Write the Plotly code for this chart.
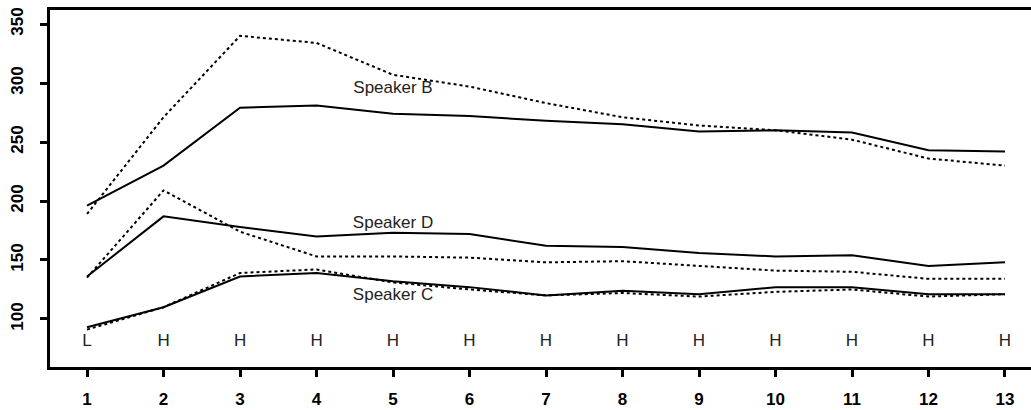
import plotly.graph_objects as go

positions = list(range(1, 14))
accent_labels = ["L", "H", "H", "H", "H", "H", "H", "H", "H", "H", "H", "H", "H"]
accent_label_y = [81] * 13

speaker_b_solid = [196, 230, 279, 281, 274, 272, 268, 265, 259, 260, 258, 243, 242]
speaker_b_dotted = [189, 271, 340, 334, 307, 297, 283, 271, 264, 260, 252, 236, 230]
speaker_d_solid = [136, 187, 178, 170, 173, 172, 162, 161, 156, 153, 154, 145, 148]
speaker_d_dotted = [135, 209, 174, 153, 153, 152, 148, 149, 145, 141, 140, 134, 134]
speaker_c_solid = [93, 110, 136, 139, 132, 127, 120, 124, 121, 127, 127, 121, 121]
speaker_c_dotted = [91, 110, 139, 142, 131, 125, 120, 122, 119, 123, 125, 119, 121]

speaker_names = ["Speaker B", "Speaker D", "Speaker C"]
speaker_label_x = [5, 5, 5]
speaker_label_y = [295, 181, 120]

y_ticks = [100, 150, 200, 250, 300, 350]

FONT = "Liberation Sans, Arial, Helvetica, sans-serif"

fig = go.Figure()

series = [
    (speaker_b_solid, "solid"),
    (speaker_b_dotted, "3px,3px"),
    (speaker_d_solid, "solid"),
    (speaker_d_dotted, "3px,3px"),
    (speaker_c_solid, "solid"),
    (speaker_c_dotted, "3px,3px"),
]
for vals, dash in series:
    fig.add_trace(go.Scatter(
        x=positions, y=vals, mode="lines",
        line=dict(color="black", width=2, dash=dash),
        showlegend=False, hoverinfo="skip",
    ))

fig.add_trace(go.Scatter(
    x=positions, y=accent_label_y, mode="text", text=accent_labels,
    textfont=dict(family=FONT, size=17, color="#222"),
    showlegend=False, hoverinfo="skip",
))
fig.add_trace(go.Scatter(
    x=speaker_label_x, y=speaker_label_y, mode="text", text=speaker_names,
    textfont=dict(family=FONT, size=17, color="#222"),
    showlegend=False, hoverinfo="skip",
))

fig.update_layout(
    width=1031, height=410,
    margin=dict(l=50, r=0, t=10, b=43),
    paper_bgcolor="white", plot_bgcolor="white",
    font=dict(family=FONT, color="black"),
    xaxis=dict(
        range=[0.516, 13.34], tickmode="array", tickvals=positions,
        ticktext=[str(p) for p in positions],
        showgrid=False, zeroline=False,
        showline=True, linecolor="black", linewidth=2.5, mirror=True,
        ticks="outside", ticklen=7, tickwidth=2.5, tickcolor="black",
        tickfont=dict(family=FONT, size=17, color="black", weight="bold"),
        ticklabelstandoff=8,
    ),
    yaxis=dict(
        range=[59.3, 361.9], tickmode="array", tickvals=y_ticks,
        ticktext=[str(t) for t in y_ticks],
        showgrid=False, zeroline=False,
        showline=True, linecolor="black", linewidth=2.5, mirror=False,
        ticks="outside", ticklen=7, tickwidth=2.5, tickcolor="black",
        tickangle=-90,
        tickfont=dict(family=FONT, size=17, color="black", weight="bold"),
        ticklabelstandoff=10,
    ),
)

fig.write_html("out.html")
